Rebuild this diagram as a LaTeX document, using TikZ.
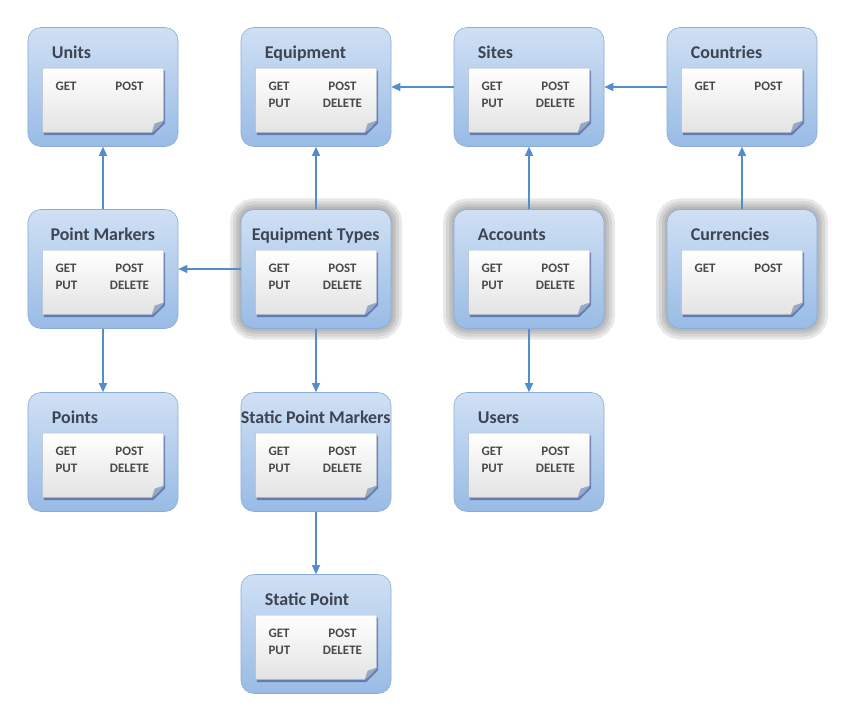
\documentclass[tikz,border=0pt]{standalone}
\usepackage{fontspec}
\setmainfont{Carlito}
\usetikzlibrary{arrows.meta,positioning,calc,shadows}
\definecolor{restop}{RGB}{208,224,244}
\definecolor{resbot}{RGB}{152,187,229}
\definecolor{resedge}{RGB}{138,172,215}
\definecolor{linkblue}{RGB}{84,141,204}
\definecolor{ttlgray}{RGB}{62,68,82}
\definecolor{opsgray}{RGB}{72,72,78}
\definecolor{cardline}{RGB}{165,180,200}
\definecolor{foldblue}{RGB}{150,170,195}

% one method row of a card
\newcommand{\mrow}[2]{\makebox[48bp][l]{#1}\makebox[52bp]{#2}}
% resource box: [box style]{name}{centre}{title style}{title}{rows}
\newcommand{\resbox}[6][]{%
  \node[res,#1] (#2) at (#3) {};
  \node[cardbox, below=41bp of #2.north] (#2-card) {};
  \path[cardface] (#2-card.north west) -- (#2-card.north east)
    -- ([yshift=12bp]#2-card.south east) -- ([xshift=-12bp]#2-card.south east)
    -- (#2-card.south west) -- cycle;
  \fill[foldblue] ([yshift=12bp]#2-card.south east)
    .. controls ([xshift=-5bp,yshift=5bp]#2-card.south east) .. ([xshift=-12bp]#2-card.south east)
    -- ([xshift=-9bp,yshift=9bp]#2-card.south east) -- cycle;
  \node[#4] at (#2.north west) {#5};
  \node[ops] at ([xshift=13bp,yshift=-22bp]#2-card.north west)
    {\begin{tabular}[t]{@{}l@{}}#6\end{tabular}};
}

\begin{document}
\begin{tikzpicture}[
  x=1bp, y=-1bp,
  res/.style={rectangle, rounded corners=13bp, minimum width=150bp, minimum height=119bp,
    inner sep=0pt, top color=restop, bottom color=resbot, draw=resedge, line width=0.6bp},
  glow/.style={
    preaction={draw=black!50, draw opacity=0.18, line width=22bp},
    preaction={draw=black!50, draw opacity=0.18, line width=16bp},
    preaction={draw=black!50, draw opacity=0.2, line width=10bp},
    preaction={draw=black!50, draw opacity=0.2, line width=5bp}},
  cardbox/.style={rectangle, minimum width=121bp, minimum height=64bp, inner sep=0pt},
  cardface/.style={top color=white, bottom color=gray!22, draw=cardline, line width=0.4bp,
    drop shadow={shadow xshift=1.5bp, shadow yshift=-2.5bp, fill=black!70!blue, opacity=0.35}},
  ttl/.style={anchor=base west, xshift=24bp, yshift=-31bp, inner sep=0pt,
    font=\fontsize{18}{20}\selectfont\bfseries, text=ttlgray},
  ttlc/.style={anchor=base, xshift=75bp, yshift=-31bp, inner sep=0pt,
    font=\fontsize{18}{20}\selectfont\bfseries, text=ttlgray},
  ops/.style={anchor=base west, inner sep=0pt, align=left,
    font=\fontsize{13}{17}\selectfont\bfseries, text=opsgray},
  link/.style={-{Triangle[length=9bp,width=8bp]}, draw=linkblue, line width=1.1bp},
]
  \useasboundingbox (0,0) rectangle (849,707);

  % Top row
  \resbox{units}{103,87}{ttl}{Units}{\mrow{GET}{POST}}
  \resbox{equip}{316,87}{ttl}{Equipment}{\mrow{GET}{POST}\\\mrow{PUT}{DELETE}}
  \resbox{sites}{529,87}{ttl}{Sites}{\mrow{GET}{POST}\\\mrow{PUT}{DELETE}}
  \resbox{countries}{742,87}{ttl}{Countries}{\mrow{GET}{POST}}

  % Second row
  \resbox{pmarkers}{103,269}{ttlc}{Point Markers}{\mrow{GET}{POST}\\\mrow{PUT}{DELETE}}
  \resbox[glow]{eqtypes}{316,269}{ttlc}{Equipment Types}{\mrow{GET}{POST}\\\mrow{PUT}{DELETE}}
  \resbox[glow]{accounts}{529,269}{ttl}{Accounts}{\mrow{GET}{POST}\\\mrow{PUT}{DELETE}}
  \resbox[glow]{currencies}{742,269}{ttl}{Currencies}{\mrow{GET}{POST}}

  % Third and fourth row
  \resbox{points}{103,452}{ttl}{Points}{\mrow{GET}{POST}\\\mrow{PUT}{DELETE}}
  \resbox{spmarkers}{316,452}{ttlc}{Static Point Markers}{\mrow{GET}{POST}\\\mrow{PUT}{DELETE}}
  \resbox{users}{529,452}{ttl}{Users}{\mrow{GET}{POST}\\\mrow{PUT}{DELETE}}
  \resbox{spoint}{316,634}{ttl}{Static Point}{\mrow{GET}{POST}\\\mrow{PUT}{DELETE}}

  % Links
  \draw[link] (sites) -- (equip);
  \draw[link] (countries) -- (sites);
  \draw[link] (eqtypes) -- (equip);
  \draw[link] (accounts) -- (sites);
  \draw[link] (currencies) -- (countries);
  \draw[link] (pmarkers) -- (units);
  \draw[link] (eqtypes) -- (pmarkers);
  \draw[link] (pmarkers) -- (points);
  \draw[link] (eqtypes) -- (spmarkers);
  \draw[link] (accounts) -- (users);
  \draw[link] (spmarkers) -- (spoint);
\end{tikzpicture}
\end{document}
